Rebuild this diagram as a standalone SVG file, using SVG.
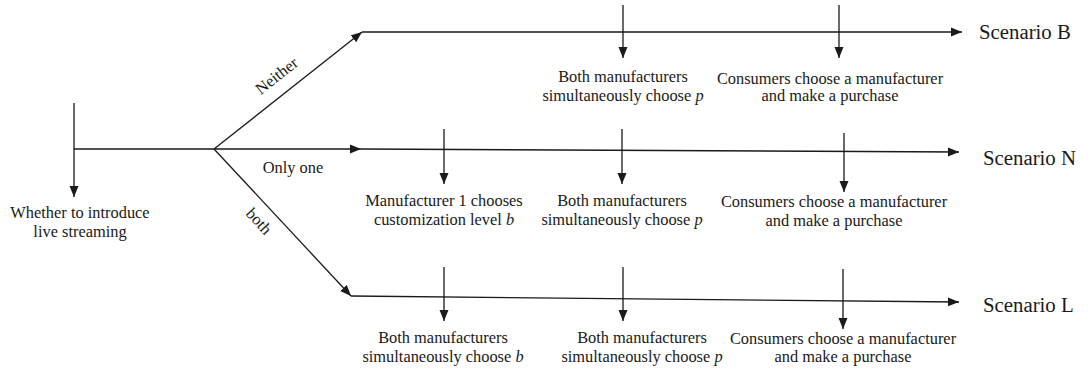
<svg xmlns="http://www.w3.org/2000/svg" width="1090" height="372" viewBox="0 0 1090 372">
<style>
.ln{stroke:#1a1a1a;stroke-width:1.3;fill:none}
.ar{marker-end:url(#ah)}
text{font-family:"Liberation Serif","Times New Roman",serif;fill:#1a1a1a;font-size:16.4px}
.c{text-anchor:middle}
.sc{font-size:20.8px}
</style>
<defs>
<marker id="ah" markerUnits="userSpaceOnUse" markerWidth="12" markerHeight="10" refX="11" refY="4.5" orient="auto" viewBox="0 0 12 9">
<path d="M0,0 L11,4.5 L0,9 z" fill="#1a1a1a"/>
</marker>
</defs>
<rect width="1090" height="372" fill="#fff"/>
<g id="connectors">
<path class="ln ar" d="M74,103 V197"/>
<path class="ln" d="M74,149 H214"/>
<path class="ln ar" d="M214,149 L362,32"/>
<path class="ln ar" d="M362,32 H962"/>
<path class="ln ar" d="M214,149 H361"/>
<path class="ln ar" d="M361,149 L959,152"/>
<path class="ln ar" d="M214,149 L351,296"/>
<path class="ln ar" d="M351,296 L959,302"/>
<path class="ln ar" d="M623,5 V58"/>
<path class="ln ar" d="M839,5 V58"/>
<path class="ln ar" d="M444,129 V184"/>
<path class="ln ar" d="M622,129 V184"/>
<path class="ln ar" d="M844,133 V192"/>
<path class="ln ar" d="M444,267 V321"/>
<path class="ln ar" d="M623,267 V321"/>
<path class="ln ar" d="M843,269 V329"/>
</g>
<g id="branch-labels">
<text class="c" transform="translate(280,80) rotate(-38)">Neither</text>
<text class="c" x="293" y="173">Only one</text>
<text class="c" transform="translate(255,225) rotate(47)">both</text>
</g>
<g id="start">
<text class="c" x="80" y="218">Whether to introduce</text>
<text class="c" x="80" y="237">live streaming</text>
</g>
<g id="scenarioB">
<text class="c" x="623" y="82">Both manufacturers</text>
<text class="c" x="623" y="101">simultaneously choose <tspan font-style="italic">p</tspan></text>
<text class="c" x="830" y="84">Consumers choose a manufacturer</text>
<text class="c" x="830" y="101">and make a purchase</text>
<text class="sc" x="979" y="39">Scenario B</text>
</g>
<g id="scenarioN">
<text class="c" x="444" y="206">Manufacturer 1 chooses</text>
<text class="c" x="444" y="225">customization level <tspan font-style="italic">b</tspan></text>
<text class="c" x="622" y="206">Both manufacturers</text>
<text class="c" x="622" y="225">simultaneously choose <tspan font-style="italic">p</tspan></text>
<text class="c" x="834" y="207">Consumers choose a manufacturer</text>
<text class="c" x="834" y="226">and make a purchase</text>
<text class="sc" x="983" y="165">Scenario N</text>
</g>
<g id="scenarioL">
<text class="c" x="443" y="343">Both manufacturers</text>
<text class="c" x="443" y="362">simultaneously choose <tspan font-style="italic">b</tspan></text>
<text class="c" x="642" y="343">Both manufacturers</text>
<text class="c" x="642" y="362">simultaneously choose <tspan font-style="italic">p</tspan></text>
<text class="c" x="843" y="344">Consumers choose a manufacturer</text>
<text class="c" x="843" y="362">and make a purchase</text>
<text class="sc" x="983" y="312">Scenario L</text>
</g>
</svg>
